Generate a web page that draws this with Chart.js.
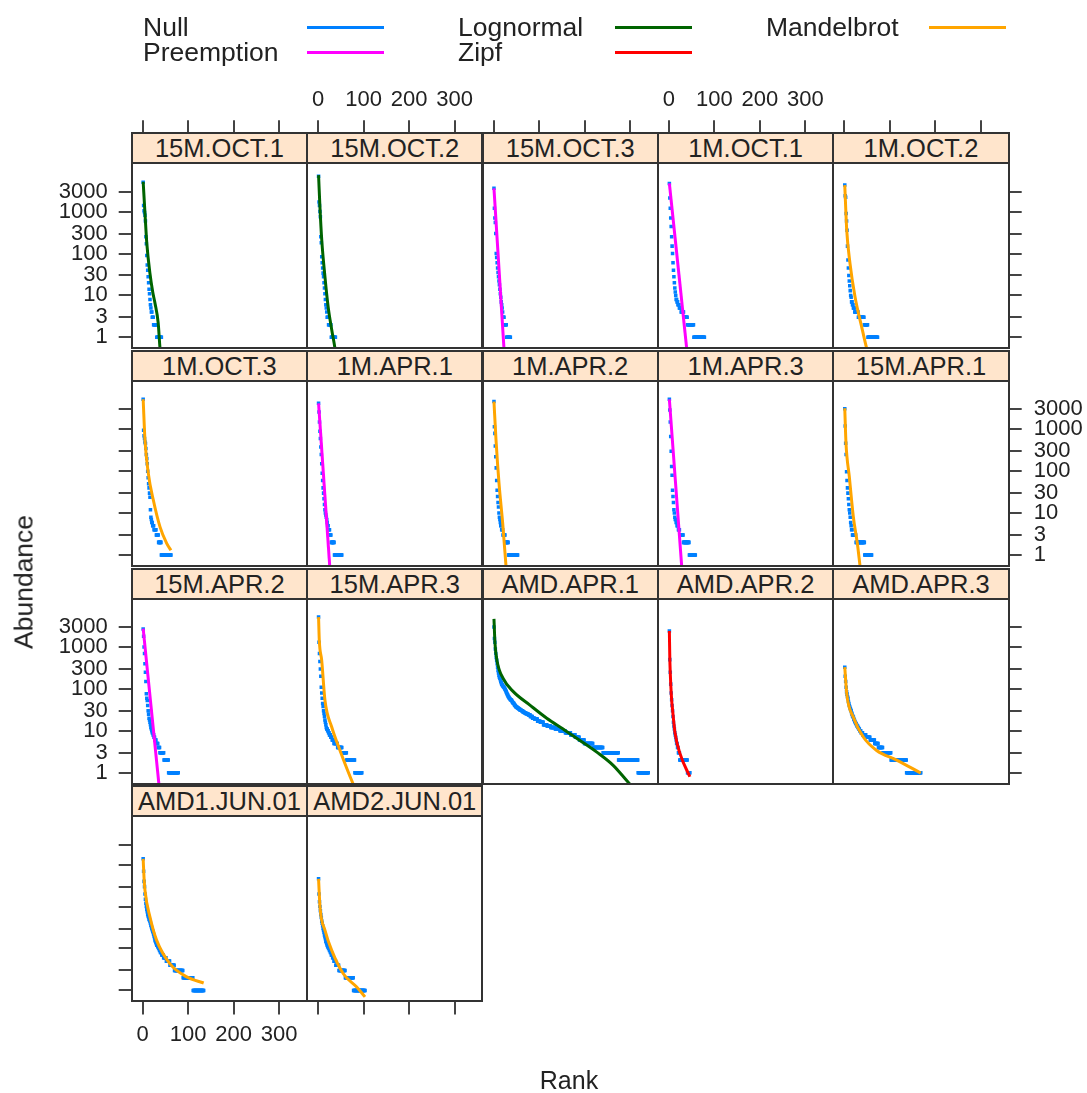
<!DOCTYPE html>
<html>
<head>
<meta charset="utf-8">
<title>Rank-abundance models</title>
<script src="https://cdn.jsdelivr.net/npm/chart.js@4.4.1/dist/chart.umd.min.js"></script>
<style>
  body { margin: 0; background: #fff; }
  #page { position: relative; width: 1087px; height: 1093px; overflow: hidden;
          font-family: "Liberation Sans", Arial, sans-serif; color: #222; background: #fff; }
  #page canvas { position: absolute; left: 0; top: 0; pointer-events: none; }
  .strip { position: absolute; box-sizing: border-box; background: #ffe5cc; border: 2px solid #333;
           text-align: center; font-size: 25.5px; line-height: 28px; white-space: nowrap; overflow: hidden; }
  .frame { position: absolute; box-sizing: border-box; border: 2px solid #333; }
  .leg-text { position: absolute; font-size: 26.5px; line-height: 26px; white-space: nowrap; }
  .leg-line { position: absolute; height: 3px; }
  .axis-title { position: absolute; white-space: nowrap; }
</style>
</head>
<body>
<div id="page"></div>
<script>
// models shown in the key
const modelNames = ['Null', 'Preemption', 'Lognormal', 'Zipf', 'Mandelbrot'];
const modelColors = ['#0080ff', '#ff00ff', '#006400', '#ff0000', '#ffa500'];

// axis ticks
const rankTicks = [0, 100, 200, 300];
const abundanceTicks = [1, 3, 10, 30, 100, 300, 1000, 3000];

// observed abundances, as [abundance, number of species] runs in rank order
const obs15MOct1 = [[5000,1],[1400,1],[1050,1],[950,1],[820,1],[600,1],[250,1],[170,1],[90,1],[53,1],[40,1],[28,1],[20,1],[14,1],[11,1],[8,1],[6,1],[5,1],[4,2],[3,3],[2,7],[1,11]];
const obs15MOct2 = [[7000,1],[1700,1],[1400,1],[1000,1],[750,1],[250,1],[180,1],[84,1],[60,1],[45,1],[34,1],[28,1],[20,1],[15,1],[11,1],[8,1],[6,1],[5,1],[4,1],[3,3],[2,6],[1,10]];
const obs15MOct3 = [[3600,1],[1200,1],[700,1],[550,1],[300,1],[100,1],[80,1],[60,1],[45,1],[35,1],[28,1],[22,1],[18,1],[14,1],[11,1],[9,1],[7,1],[6,1],[5,1],[4,1],[3,3],[2,5],[1,9]];
const obs1MOct1 = [[4700,1],[2100,1],[1200,1],[700,1],[440,1],[250,1],[150,1],[100,1],[60,1],[40,1],[28,1],[20,1],[15,1],[12,1],[10,1],[8,2],[7,2],[6,3],[5,4],[4,6],[3,8],[2,14],[1,24]];
const obs1MOct2 = [[4300,1],[2400,1],[2200,1],[900,1],[600,1],[360,1],[150,1],[70,1],[45,1],[30,1],[22,1],[17,1],[13,1],[10,1],[9,1],[7,2],[6,2],[5,3],[4,8],[3,13],[2,8],[1,22]];
const obs1MOct3 = [[5200,1],[950,1],[700,1],[600,1],[500,1],[460,1],[350,1],[250,1],[200,1],[150,1],[100,1],[70,1],[50,1],[40,1],[30,1],[24,1],[12,1],[8,1],[7,1],[6,2],[5,3],[4,5],[3,5],[2,6],[1,22]];
const obs1MApr1 = [[4200,1],[2600,1],[1500,1],[900,1],[600,1],[380,1],[250,1],[150,1],[89,1],[60,1],[40,1],[30,1],[22,1],[16,1],[12,1],[10,1],[9,1],[8,1],[7,1],[6,1],[5,2],[4,3],[3,3],[2,7],[1,17]];
const obs1MApr2 = [[4600,1],[1150,1],[800,1],[400,1],[220,1],[120,1],[60,1],[35,1],[25,1],[18,1],[14,1],[10,1],[8,1],[7,1],[6,1],[5,2],[4,3],[3,5],[2,7],[1,21]];
const obs1MApr3 = [[5200,1],[2900,1],[1500,1],[670,1],[300,1],[130,1],[80,1],[35,1],[25,1],[18,1],[12,1],[10,1],[8,1],[7,2],[6,2],[5,3],[4,3],[3,8],[2,13],[1,14]];
const obs15MApr1 = [[3100,1],[1200,1],[465,1],[250,1],[97,1],[60,1],[40,1],[30,1],[22,1],[16,1],[12,1],[10,1],[8,1],[6,1],[5,1],[4,2],[3,8],[2,19],[1,16]];
const obs15MApr2 = [[2700,1],[1800,1],[1000,1],[700,1],[400,1],[250,1],[150,1],[77,1],[60,1],[53,1],[40,1],[30,1],[25,1],[20,1],[18,1],[16,1],[14,1],[12,1],[11,1],[10,1],[9,2],[8,2],[7,2],[6,3],[5,4],[4,4],[3,9],[2,10],[1,22]];
const obs15MApr3 = [[5200,1],[1300,1],[700,1],[450,1],[300,1],[200,1],[110,1],[80,1],[60,1],[45,1],[38,1],[30,1],[26,1],[22,1],[18,1],[16,1],[14,1],[12,1],[11,2],[10,2],[9,2],[8,3],[7,3],[6,4],[5,8],[4,10],[3,10],[2,18],[1,16]];
const obsAmdApr1 = [
  [3000,1],[1600,1],[1300,1],[900,1],[700,1],[560,1],[480,1],[400,1],[330,1],[275,1],[240,1],[210,1],[190,1],[180,1],[165,1],[150,1],[140,1],[130,1],[125,1],[120,1],[115,1],[112,1],
  [110,1],[105,1],[100,1],[95,1],[90,1],[85,1],[80,1],[76,1],[72,1],[68,1],[65,1],[62,1],[60,1],[58,1],[56,1],[55,1],[54,1],[53,1],
  [50,1],[48,1],[46,2],[44,1],[42,1],[40,2],[38,1],[37,2],[36,1],[35,2],[34,1],[33,2],[32,1],
  [31,3],[30,3],[28,3],[27,3],[26,3],[25,3],[24,4],
  [22,5],[20,5],[19,6],[17,6],[16,7],[14,8],
  [13,8],[12,10],[11,10],[10,12],[9,12],[8,10],
  [7,9],[6,11],[5,19],[4,22],[3,34],[2,43],[1,23]
];
const obsAmdApr2 = [[2400,1],[500,1],[250,1],[130,1],[80,1],[55,1],[40,1],[30,1],[22,1],[16,1],[13,1],[11,1],[9,1],[8,1],[7,1],[6,1],[5,2],[4,2],[3,3],[2,17],[1,6]];
const obsAmdApr3 = [[330,1],[200,1],[150,1],[110,1],[85,1],[75,1],[65,1],[60,1],[50,1],[45,1],[40,1],[37,1],[34,1],[32,1],[30,1],[27,1],[25,1],[23,1],[22,1],[21,1],[19,1],[18,1],[17,1],[16,1],[15,2],[14,1],[13,2],[12,2],[11,2],[10,3],[9,4],[8,7],[7,9],[6,10],[5,8],[4,10],[3,18],[2,34],[1,32]];
const obsAmd1Jun01 = [[1380,1],[700,1],[400,1],[300,1],[200,1],[150,1],[120,1],[100,1],[85,1],[75,1],[65,1],[60,1],[55,1],[50,1],[47,1],[44,1],[40,1],[36,1],[33,1],[30,1],[28,1],[26,1],[24,1],[22,1],[20,1],[18,1],[16,1],[15,1],[14,1],[13,1],[12,2],[11,2],[10,2],[9,2],[8,3],[7,4],[6,6],[5,8],[4,10],[3,19],[2,22],[1,24]];
const obsAmd2Jun01 = [[460,1],[200,1],[130,1],[100,1],[80,1],[65,1],[55,1],[45,1],[40,1],[35,1],[30,1],[27,1],[24,1],[21,1],[19,1],[17,1],[15,1],[14,1],[13,1],[12,1],[11,2],[10,2],[9,2],[8,2],[7,3],[6,3],[5,4],[4,7],[3,14],[2,18],[1,26]];

// fitted model curves, [rank, abundance]
const fit15MOct1 = [[1,5150],[5,910],[9,175],[16,33],[22,12],[27,6.5],[34,2.2],[38,0.55],[41,0.3]];
const fit15MOct2 = [[1,7400],[4,1300],[8,210],[15,28],[22,5.4],[30,1.5],[37,0.55],[38,0.45]];
const fit15MOct3 = [[1,3600],[23,0.55]];
const fit1MOct1 = [[1,4730],[39,0.55]];
const fit1MOct2 = [[1,4290],[5.3,363],[12.5,58],[23.5,9.3],[38,1.8],[49,0.55],[56,0.3]];
const fit1MOct3 = [[1,5200],[5,555],[12.3,89],[23.3,20.5],[38,4.7],[52.7,1.9],[62,1.3]];
const fit1MApr1 = [[1,4170],[25.5,0.55]];
const fit1MApr2 = [[1,4570],[5.5,555],[12.1,51],[20.2,5.7],[27.4,0.55]];
const fit1MApr3 = [[1,5200],[28,0.55]];
const fit15MApr1 = [[1,3170],[3.7,465],[11,74],[19.8,8.2],[28.6,1.9],[34.5,0.55]];
const fit15MApr2 = [[1,2740],[35.5,0.55]];
const fit15MApr3 = [[1,5170],[2.6,1450],[7.9,480],[15.1,53],[29.9,12.3],[48.1,3.4],[77.3,0.53],[85,0.35]];
const fitAmdApr1 = [[1,4700],[3.3,1200],[8,450],[21.5,175],[43.5,86],[80,41],[117,20],[153,11],[190,5.9],[227,3.1],[263,1.5],[300,0.53],[340,0.2]];
const fitAmdApr2 = [[1,2400],[2,520],[3,240],[4,130],[6,55],[8,32],[13.4,9],[24.4,2.85],[46,0.8]];
const fitAmdApr3 = [[1,330],[5.3,77],[19.8,21],[41.7,7.1],[71,3.4],[115,2],[168,0.98]];
const fitAmd1Jun01 = [[1,1380],[2.8,510],[5,243],[16,56],[30.7,15.6],[60,4.3],[96.7,2.1],[134,1.5]];
const fitAmd2Jun01 = [[1,460],[4.2,97],[15.1,27],[29.9,9],[55.4,2.5],[84.8,1.2],[103,0.7]];

const panels = [
  { name: '15M.OCT.1', model: 'Lognormal', obs: obs15MOct1, fit: fit15MOct1 },
  { name: '15M.OCT.2', model: 'Lognormal', obs: obs15MOct2, fit: fit15MOct2 },
  { name: '15M.OCT.3', model: 'Preemption', obs: obs15MOct3, fit: fit15MOct3 },
  { name: '1M.OCT.1', model: 'Preemption', obs: obs1MOct1, fit: fit1MOct1 },
  { name: '1M.OCT.2', model: 'Mandelbrot', obs: obs1MOct2, fit: fit1MOct2 },
  { name: '1M.OCT.3', model: 'Mandelbrot', obs: obs1MOct3, fit: fit1MOct3 },
  { name: '1M.APR.1', model: 'Preemption', obs: obs1MApr1, fit: fit1MApr1 },
  { name: '1M.APR.2', model: 'Mandelbrot', obs: obs1MApr2, fit: fit1MApr2 },
  { name: '1M.APR.3', model: 'Preemption', obs: obs1MApr3, fit: fit1MApr3 },
  { name: '15M.APR.1', model: 'Mandelbrot', obs: obs15MApr1, fit: fit15MApr1 },
  { name: '15M.APR.2', model: 'Preemption', obs: obs15MApr2, fit: fit15MApr2 },
  { name: '15M.APR.3', model: 'Mandelbrot', obs: obs15MApr3, fit: fit15MApr3 },
  { name: 'AMD.APR.1', model: 'Lognormal', obs: obsAmdApr1, fit: fitAmdApr1 },
  { name: 'AMD.APR.2', model: 'Zipf', obs: obsAmdApr2, fit: fitAmdApr2 },
  { name: 'AMD.APR.3', model: 'Mandelbrot', obs: obsAmdApr3, fit: fitAmdApr3 },
  { name: 'AMD1.JUN.01', model: 'Mandelbrot', obs: obsAmd1Jun01, fit: fitAmd1Jun01 },
  { name: 'AMD2.JUN.01', model: 'Mandelbrot', obs: obsAmd2Jun01, fit: fitAmd2Jun01 }
];

// page geometry (px)
const PAGE_W = 1087, PAGE_H = 1093;
const GRID_LEFT = 131.7, COL_W = 175.4, N_COLS = 5;
const GRID_TOP = 133.3, ROW_STEP = 217.7, STRIP_H = 30, PLOT_H = 185;
const DECADE_PX = 41.9, ONE_ABOVE_BOTTOM = 11;
const X_MIN = -24.2, X_MAX = 361.3;
// chart area covers strip + plot, so the top axis sits on the strip's upper edge
const Y_MIN = Math.pow(10, -ONE_ABOVE_BOTTOM / DECADE_PX);
const Y_MAX = Math.pow(10, (STRIP_H + PLOT_H - ONE_ABOVE_BOTTOM) / DECADE_PX);
// room given to a visible axis (its labels are clipped to this box)
const AXIS_H = 50, AXIS_W_LEFT = 80, AXIS_W_RIGHT = 75;

const TEXT = '#222';
const FRAME = '#444';
const tickFont = { family: '"Liberation Sans", Arial, sans-serif', size: 22 };

const page = document.getElementById('page');

function expandRuns(runs) {
  const pts = [];
  let rank = 1;
  runs.forEach(([value, count]) => {
    for (let k = 0; k < count; k++) pts.push({ x: rank++, y: value });
  });
  return pts;
}

// fixed axis size, no extra padding, so the plot area lands exactly on the frame
function fixedSize(size) {
  return scale => {
    if (scale.isHorizontal()) scale.height = size; else scale.width = size;
    scale.paddingLeft = scale.paddingRight = scale.paddingTop = scale.paddingBottom = 0;
  };
}

function tickGrid() {
  return { display: true, drawOnChartArea: false, drawTicks: true, tickLength: 13,
           tickWidth: 2, tickColor: FRAME, color: FRAME, lineWidth: 2 };
}

function xAxisSpec(row, col) {
  if (row === 0) return { position: 'top', display: true, labels: col % 2 === 1, size: AXIS_H };
  if (row === 3) return { position: 'bottom', display: true, labels: col === 0, size: AXIS_H };
  return { position: 'bottom', display: false, labels: false, size: 0 };
}

function yAxisSpec(row, col) {
  if (col === 0) return { position: 'left', display: true, labels: row % 2 === 0, size: AXIS_W_LEFT, pad: 11 };
  if (col === N_COLS - 1 && row < 3) return { position: 'right', display: true, labels: row === 1, size: AXIS_W_RIGHT, pad: 12 };
  return { position: 'left', display: false, labels: false, size: 0, pad: 11 };
}

function xScale(spec) {
  return {
    type: 'linear', position: spec.position, display: spec.display, min: X_MIN, max: X_MAX, bounds: 'data',
    afterBuildTicks: s => { s.ticks = rankTicks.map(v => ({ value: v })); },
    afterFit: fixedSize(spec.size),
    grid: tickGrid(),
    border: { display: false },
    ticks: { display: spec.labels, autoSkip: false, maxRotation: 0, minRotation: 0, padding: 7,
             color: TEXT, font: tickFont, callback: v => String(v) }
  };
}

function yScale(spec) {
  return {
    type: 'logarithmic', position: spec.position, display: spec.display, min: Y_MIN, max: Y_MAX, bounds: 'data',
    afterBuildTicks: s => { s.ticks = abundanceTicks.map(v => ({ value: v })); },
    afterFit: fixedSize(spec.size),
    grid: tickGrid(),
    border: { display: false },
    ticks: { display: spec.labels, autoSkip: false, padding: spec.pad, color: TEXT, font: tickFont,
             callback: v => String(v) }
  };
}

panels.forEach((p, i) => {
  const col = i % N_COLS, row = Math.floor(i / N_COLS);
  const left = GRID_LEFT + col * COL_W;
  const top = GRID_TOP + row * ROW_STEP;           // strip top
  const bottom = top + STRIP_H + PLOT_H;
  const xs = xAxisSpec(row, col), ys = yAxisSpec(row, col);

  const pad = {
    left: left - (ys.position === 'left' ? ys.size : 0),
    right: PAGE_W - (left + COL_W) - (ys.position === 'right' ? ys.size : 0),
    top: top - (xs.position === 'top' ? xs.size : 0),
    bottom: PAGE_H - bottom - (xs.position === 'bottom' ? xs.size : 0)
  };

  const canvas = document.createElement('canvas');
  canvas.width = PAGE_W; canvas.height = PAGE_H;
  canvas.style.width = PAGE_W + 'px'; canvas.style.height = PAGE_H + 'px';
  page.appendChild(canvas);

  const color = modelColors[modelNames.indexOf(p.model)];
  new Chart(canvas, {
    type: 'scatter',
    data: {
      datasets: [
        { type: 'line', label: p.model, data: p.fit.map(([x, y]) => ({ x, y })),
          borderColor: color, borderWidth: 3, pointRadius: 0, fill: false,
          cubicInterpolationMode: 'monotone', clip: 0 },
        { type: 'scatter', label: 'Null', data: expandRuns(p.obs),
          backgroundColor: modelColors[0], borderWidth: 0, pointStyle: 'rect', pointRadius: 2.5 }
      ]
    },
    options: {
      responsive: false, animation: false, devicePixelRatio: 1, events: [],
      layout: { padding: pad },
      plugins: { legend: { display: false }, tooltip: { enabled: false } },
      scales: { x: xScale(xs), y: yScale(ys) }
    }
  });

  const strip = document.createElement('div');
  strip.className = 'strip';
  Object.assign(strip.style, { left: (left - 1) + 'px', top: (top - 1) + 'px',
    width: (COL_W + 2) + 'px', height: (STRIP_H + 2) + 'px' });
  strip.textContent = p.name;
  page.appendChild(strip);

  const frame = document.createElement('div');
  frame.className = 'frame';
  Object.assign(frame.style, { left: (left - 1) + 'px', top: (top + STRIP_H - 1) + 'px',
    width: (COL_W + 2) + 'px', height: (PLOT_H + 2) + 'px' });
  page.appendChild(frame);
});

// key: three columns, filled top to bottom
const keyTextX = [143, 458, 766];
const keyLineX = [307, 615, 929];
const keyRowY = [27, 52];
modelNames.forEach((name, i) => {
  const c = Math.floor(i / 2), r = i % 2;
  const t = document.createElement('div');
  t.className = 'leg-text';
  t.textContent = name;
  Object.assign(t.style, { left: keyTextX[c] + 'px', top: (keyRowY[r] - 13) + 'px' });
  page.appendChild(t);
  const l = document.createElement('div');
  l.className = 'leg-line';
  Object.assign(l.style, { left: keyLineX[c] + 'px', top: (keyRowY[r] - 1.5) + 'px',
    width: '77px', background: modelColors[i] });
  page.appendChild(l);
});

const yTitle = document.createElement('div');
yTitle.className = 'axis-title';
yTitle.textContent = 'Abundance';
Object.assign(yTitle.style, { fontSize: '26.5px', left: '24px', top: '582px',
  transform: 'translate(-50%, -50%) rotate(-90deg)' });
page.appendChild(yTitle);

const xTitle = document.createElement('div');
xTitle.className = 'axis-title';
xTitle.textContent = 'Rank';
Object.assign(xTitle.style, { fontSize: '25px', left: '569px', top: '1080px',
  transform: 'translate(-50%, -50%)' });
page.appendChild(xTitle);
</script>
</body>
</html>
